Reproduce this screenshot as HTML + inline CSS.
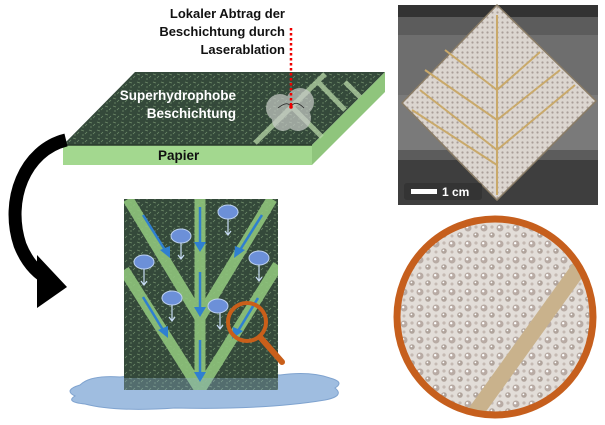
<!DOCTYPE html>
<html><head><meta charset="utf-8"><style>
body{margin:0;background:#fff}
svg{display:block}
text{font-family:"Liberation Sans",sans-serif;font-weight:bold}
</style></head><body>
<svg width="605" height="425" viewBox="0 0 605 425">
<defs>
<pattern id="tex" width="8" height="8" patternUnits="userSpaceOnUse">
<rect width="8" height="8" fill="#34493a"/>
<path d="M1 2l3 1M5 6l2-2M2 7l2 0" stroke="#6f8c6a" stroke-width="0.8"/>
</pattern>
<pattern id="drops" width="16" height="16" patternUnits="userSpaceOnUse">
<rect width="16" height="16" fill="#e2ddd8"/>
<circle cx="4" cy="4" r="3.5" fill="#b8aba4"/><circle cx="3.2" cy="3.2" r="1.2" fill="#fff"/>
<circle cx="12" cy="11" r="2.8" fill="#b0a49c"/><circle cx="11.4" cy="10.4" r="0.9" fill="#fff"/>
<circle cx="12" cy="3" r="1.6" fill="#c4b9b2"/><circle cx="4" cy="12" r="1.5" fill="#c4b9b2"/>
</pattern>
<pattern id="pdrops" width="5" height="5" patternUnits="userSpaceOnUse">
<rect width="5" height="5" fill="#dcd6d0"/><circle cx="2.5" cy="2.5" r="1.1" fill="#a99e98"/>
</pattern>
<clipPath id="cc"><circle cx="495" cy="317" r="97"/></clipPath>
<clipPath id="pc"><rect x="124" y="199" width="154" height="191"/></clipPath>
</defs>

<!-- slab -->
<polygon points="135,72 385,72 312,145 63,145" fill="url(#tex)"/>
<polygon points="63,145 312,145 312,165 63,165" fill="#a3d88f"/>
<polygon points="312,145 385,72 385,92 312,165" fill="#8fc57c"/>
<line x1="63" y1="145" x2="312" y2="145" stroke="#2a3a2c" stroke-width="1.5"/>
<g stroke="#b8d8a8" stroke-width="5" opacity="0.75">
<line x1="325" y1="74" x2="255" y2="143"/>
<line x1="318" y1="82" x2="345" y2="110"/>
<line x1="345" y1="82" x2="360" y2="97"/>
<line x1="292" y1="107" x2="322" y2="137"/>
</g>
<g fill="#c8ccc8" opacity="0.7">
<circle cx="280" cy="108" r="14"/><circle cx="300" cy="102" r="14"/><circle cx="298" cy="118" r="13"/><circle cx="283" cy="120" r="11"/>
</g>
<path d="M278 108 q10-8 13-1 q4-8 13 1" fill="none" stroke="#222" stroke-width="0.8"/>
<line x1="291" y1="28" x2="291" y2="106" stroke="#e00" stroke-width="2.5" stroke-dasharray="2.5,2.5"/>
<circle cx="291" cy="107" r="1.8" fill="#e00"/>
<text x="285" y="18" font-size="13" text-anchor="end" fill="#111">Lokaler Abtrag der</text>
<text x="285" y="36" font-size="13" text-anchor="end" fill="#111">Beschichtung durch</text>
<text x="285" y="54" font-size="13" text-anchor="end" fill="#111">Laserablation</text>
<text x="236" y="100" font-size="13.5" text-anchor="end" fill="#fff">Superhydrophobe</text>
<text x="236" y="118" font-size="13.5" text-anchor="end" fill="#fff">Beschichtung</text>
<text x="158" y="160" font-size="13.5" fill="#111">Papier</text>

<!-- big arrow -->
<path d="M66 140 C25 150 5 200 20 245 C28 265 40 275 50 280" fill="none" stroke="#000" stroke-width="13"/>
<polygon points="37,255 67,287 37,308" fill="#000"/>

<!-- puddle -->
<path d="M80 385 q10-10 40-8 q60-6 160 -2 q30-4 50 3 q15 4 5 10 q10 8-10 12 q-60 10-150 8 q-60 4-90-4 q-20-2-10-8 q-12-6 5-11z" fill="#9fbde0" stroke="#7fa3cf" stroke-width="1"/>

<!-- panel -->
<rect x="124" y="199" width="154" height="191" fill="url(#tex)"/>
<g clip-path="url(#pc)" stroke="#8fc57c" stroke-width="11" opacity="0.9" fill="none">
<line x1="200" y1="199" x2="200" y2="390"/>
<polyline points="128,199 200,318 272,199"/>
<polyline points="124,270 200,390 278,265"/>
</g>
<rect x="124" y="378" width="154" height="12" fill="#8fb3d0" opacity="0.35"/>
<g stroke="#2f7fd0" stroke-width="2.5" fill="#2f7fd0">
<line x1="200" y1="207" x2="200" y2="245"/><polygon points="194,242 206,242 200,252" stroke="none"/>
<line x1="200" y1="272" x2="200" y2="310"/><polygon points="194,307 206,307 200,317" stroke="none"/>
<line x1="200" y1="340" x2="200" y2="375"/><polygon points="194,372 206,372 200,382" stroke="none"/>
<line x1="143" y1="215" x2="165" y2="250"/><polygon points="160,250 170,246 170,258" stroke="none"/>
<line x1="143" y1="297" x2="163" y2="330"/><polygon points="158,330 168,326 168,338" stroke="none"/>
<line x1="262" y1="215" x2="240" y2="250"/><polygon points="235,246 245,250 234,258" stroke="none"/>
<line x1="258" y1="298" x2="238" y2="331"/><polygon points="233,327 243,331 232,339" stroke="none"/>
</g>
<g fill="#6c90d8" stroke="#bcd0f0" stroke-width="1">
<ellipse cx="228" cy="212" rx="10" ry="7"/><ellipse cx="181" cy="236" rx="10" ry="7"/>
<ellipse cx="144" cy="262" rx="10" ry="7"/><ellipse cx="259" cy="258" rx="10" ry="7"/>
<ellipse cx="172" cy="298" rx="10" ry="7"/><ellipse cx="218" cy="306" rx="10" ry="7"/>
</g>
<g stroke="#c8dcf5" stroke-width="1.2" fill="none">
<path d="M228 219v16m-3-4l3 4 3-4"/><path d="M181 243v16m-3-4l3 4 3-4"/>
<path d="M144 269v16m-3-4l3 4 3-4"/><path d="M259 265v16m-3-4l3 4 3-4"/>
<path d="M172 305v16m-3-4l3 4 3-4"/><path d="M220 313v16m-3-4l3 4 3-4"/>
</g>
<circle cx="247" cy="322" r="19" fill="none" stroke="#c95f1a" stroke-width="4"/>
<line x1="260" y1="337" x2="282" y2="362" stroke="#c95f1a" stroke-width="6" stroke-linecap="round"/>

<!-- photo -->
<rect x="398" y="5" width="200" height="200" fill="#5c5c5c"/>
<rect x="398" y="5" width="200" height="12" fill="#333"/>
<rect x="398" y="35" width="200" height="60" fill="#6e6e6e"/>
<rect x="398" y="95" width="200" height="55" fill="#7a7a7a"/>
<rect x="398" y="160" width="200" height="45" fill="#3e3e3e"/>
<polygon points="497,5 596,101 497,200 402,103" fill="url(#pdrops)" stroke="#8a7c66" stroke-width="1.5"/>
<g stroke="#c9a96a" stroke-width="2" fill="none">
<line x1="497" y1="15" x2="497" y2="195"/>
<polyline points="445,50 497,90 540,52"/><polyline points="425,70 497,120 560,70"/>
<polyline points="420,90 497,150 575,85"/><polyline points="412,110 497,165"/>
</g>
<rect x="404" y="183" width="78" height="17" rx="3" fill="#333" opacity="0.9"/>
<rect x="411" y="189" width="26" height="5" fill="#fff"/>
<text x="442" y="196" font-size="12" fill="#fff">1 cm</text>

<!-- zoom circle -->
<circle cx="495" cy="317" r="97" fill="url(#drops)"/>
<g clip-path="url(#cc)">
<line x1="585" y1="260" x2="470" y2="420" stroke="#c9b28c" stroke-width="16"/>
<line x1="440" y1="215" x2="395" y2="275" stroke="#c9b28c" stroke-width="10"/>
</g>
<circle cx="495" cy="317" r="98" fill="none" stroke="#c65f1d" stroke-width="7"/>
</svg>
</body></html>
